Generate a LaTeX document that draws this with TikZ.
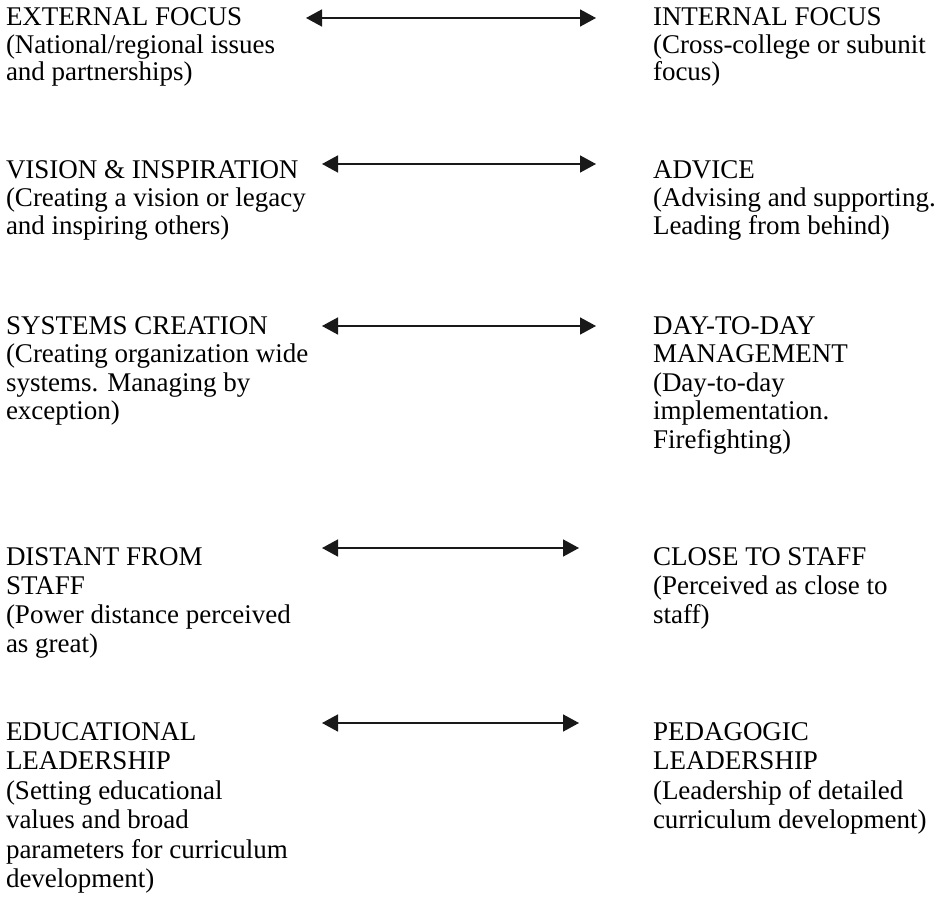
\documentclass[tikz,border=0pt]{standalone}
\usepackage{fontspec}
\setmainfont{Liberation Serif}
\usetikzlibrary{arrows.meta}
\tikzset{
  lbl/.style={anchor=north west, inner sep=0pt, outer sep=0pt, align=left, font=\fontsize{27}{#1}\selectfont},
  lbl/.default=28,
  dbl/.style={{Triangle[length=16pt,width=17pt]}-{Triangle[length=16pt,width=17pt]}, line width=1.6pt, black!90}
}
\newcommand{\fs}{\rule{0pt}{20pt}}
\begin{document}
\begin{tikzpicture}[x=1pt,y=-1pt]
\useasboundingbox (0,0) rectangle (942,901);
% row 1
\node[lbl=27.5] (l1) at (6,6) {\fs EXTERNAL FOCUS\\(National/regional issues\\and partnerships)};
\node[lbl=27.5] (r1) at (653,6) {\fs INTERNAL FOCUS\\(Cross-college or subunit\\focus)};
\coordinate (a1l) at (306,18); \coordinate (a1r) at (596,18);
\draw[dbl] (a1l) -- (a1r);
% row 2
\node[lbl=28] (l2) at (6,159) {\fs VISION \& INSPIRATION\\(Creating a vision or legacy\\and inspiring others)};
\node[lbl=28] (r2) at (653,159) {\fs ADVICE\\(Advising and supporting.\\Leading from behind)};
\coordinate (a2l) at (322,164); \coordinate (a2r) at (596,164);
\draw[dbl] (a2l) -- (a2r);
% row 3
\node[lbl=28.5] (l3) at (6,314) {\fs SYSTEMS CREATION\\(Creating organization wide\\systems. Managing by\\exception)};
\node[lbl=28.5] (r3) at (653,314) {\fs DAY-TO-DAY\\MANAGEMENT\\(Day-to-day\\implementation.\\Firefighting)};
\coordinate (a3l) at (322,326); \coordinate (a3r) at (596,326);
\draw[dbl] (a3l) -- (a3r);
% row 4
\node[lbl=29] (l4) at (6,545) {\fs DISTANT FROM\\STAFF\\(Power distance perceived\\as great)};
\node[lbl=29] (r4) at (653,545) {\fs CLOSE TO STAFF\\(Perceived as close to\\staff)};
\coordinate (a4l) at (322,548); \coordinate (a4r) at (579,548);
\draw[dbl] (a4l) -- (a4r);
% row 5
\node[lbl=29.5] (l5) at (6,720) {\fs EDUCATIONAL\\LEADERSHIP\\(Setting educational\\values and broad\\parameters for curriculum\\development)};
\node[lbl=29.5] (r5) at (653,720) {\fs PEDAGOGIC\\LEADERSHIP\\(Leadership of detailed\\curriculum development)};
\coordinate (a5l) at (322,723); \coordinate (a5r) at (579,723);
\draw[dbl] (a5l) -- (a5r);
\end{tikzpicture}
\end{document}
